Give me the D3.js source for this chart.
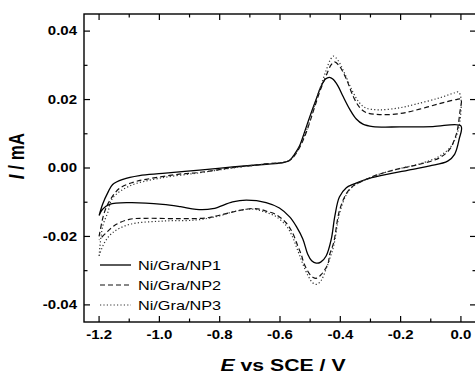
<!DOCTYPE html>
<html><head><meta charset="utf-8">
<script src="https://cdn.jsdelivr.net/npm/d3@7"></script>
<style>body{margin:0;background:#fff}svg{display:block}text{font-family:"Liberation Sans",Arial,sans-serif;fill:#000}</style>
</head><body>
<svg id="c" width="475" height="374"></svg>
<script>
// ---- data ----
const seriesNames = ["Ni/Gra/NP1", "Ni/Gra/NP2", "Ni/Gra/NP3"];
const xTickValues = [-1.2, -1.0, -0.8, -0.6, -0.4, -0.2, 0.0];
const xTickLabels = ["-1.2", "-1.0", "-0.8", "-0.6", "-0.4", "-0.2", "0.0"];
const yTickValues = [-0.04, -0.02, 0.00, 0.02, 0.04];
const yTickLabels = ["-0.04", "-0.02", "0.00", "0.02", "0.04"];

const np1E = [-1.2,-1.188,-1.171,-1.155,-1.121,-1.066,-0.989,-0.867,-0.757,-0.646,-0.591,-0.568,-0.552,-0.535,-0.519,-0.502,-0.480,-0.463,-0.449,-0.436,-0.425,-0.408,-0.392,-0.369,-0.347,-0.325,-0.292,-0.203,-0.093,0.0,
  -0.006,-0.021,-0.044,-0.103,-0.160,-0.270,-0.314,-0.358,-0.380,-0.403,-0.418,-0.430,-0.447,-0.465,-0.480,-0.495,-0.508,-0.524,-0.545,-0.568,-0.602,-0.646,-0.712,-0.757,-0.823,-0.878,-0.930,-0.989,-1.1,-1.165,-1.188,-1.2];
const np1I = [-0.0139,-0.0105,-0.0072,-0.0048,-0.0033,-0.0022,-0.0016,-0.0006,0.0003,0.0011,0.0016,0.0022,0.0040,0.0065,0.0104,0.0148,0.0201,0.0240,0.0260,0.0265,0.0260,0.0240,0.0211,0.0172,0.0143,0.0128,0.0121,0.0120,0.0121,0.0123,
  0.0084,0.0040,0.0020,0.0006,-0.0004,-0.0023,-0.0033,-0.0048,-0.0058,-0.0085,-0.0140,-0.0208,-0.0257,-0.0275,-0.0278,-0.0271,-0.0252,-0.0208,-0.0172,-0.0143,-0.0117,-0.0101,-0.0094,-0.0099,-0.0119,-0.0121,-0.0113,-0.0106,-0.0101,-0.0106,-0.0120,-0.0139];

const np2E = [-1.2,-1.183,-1.165,-1.133,-1.088,-1.044,-0.934,-0.867,-0.757,-0.646,-0.58,-0.558,-0.535,-0.513,-0.491,-0.469,-0.447,-0.43,-0.419,-0.403,-0.38,-0.358,-0.336,-0.314,-0.27,-0.203,-0.137,-0.071,-0.015,0.0,
  -0.004,-0.012,-0.021,-0.037,-0.07,-0.137,-0.214,-0.27,-0.314,-0.358,-0.38,-0.403,-0.422,-0.435,-0.441,-0.463,-0.478,-0.490,-0.501,-0.519,-0.530,-0.541,-0.558,-0.58,-0.613,-0.646,-0.668,-0.701,-0.734,-0.801,-0.845,-0.934,-1.044,-1.1,-1.149,-1.177,-1.2];
const np2I = [-0.0200,-0.0131,-0.0096,-0.0060,-0.0042,-0.0033,-0.0018,-0.0013,0.0001,0.0012,0.0018,0.0030,0.0060,0.0104,0.0162,0.0221,0.0270,0.0302,0.0310,0.0298,0.0260,0.0211,0.0177,0.0162,0.0156,0.0159,0.0172,0.0188,0.0200,0.0201,
  0.0160,0.0110,0.0084,0.0055,0.0030,0.0011,-0.0004,-0.0018,-0.0033,-0.0053,-0.0075,-0.0125,-0.0218,-0.0252,-0.0280,-0.0311,-0.0322,-0.0320,-0.0311,-0.0282,-0.0252,-0.0228,-0.0190,-0.0160,-0.0136,-0.0126,-0.0120,-0.0119,-0.0124,-0.0138,-0.0146,-0.0148,-0.0147,-0.0150,-0.0168,-0.0190,-0.0210];

const np3E = [-1.2,-1.188,-1.171,-1.155,-1.1,-1.0,-0.867,-0.757,-0.646,-0.58,-0.558,-0.535,-0.513,-0.491,-0.469,-0.447,-0.432,-0.422,-0.408,-0.385,-0.36,-0.336,-0.314,-0.27,-0.203,-0.148,-0.071,-0.02,-0.008,0.0,
  -0.004,-0.015,-0.032,-0.07,-0.137,-0.214,-0.27,-0.314,-0.358,-0.38,-0.403,-0.422,-0.435,-0.447,-0.463,-0.478,-0.492,-0.505,-0.52,-0.532,-0.545,-0.56,-0.58,-0.613,-0.646,-0.69,-0.757,-0.801,-0.878,-0.989,-1.1,-1.155,-1.182,-1.2];
const np3I = [-0.0257,-0.0170,-0.0130,-0.0088,-0.0053,-0.0030,-0.0014,0.0000,0.0012,0.0018,0.0030,0.0062,0.0108,0.0168,0.0228,0.0285,0.0318,0.0327,0.0315,0.0275,0.0225,0.0190,0.0175,0.0170,0.0176,0.0187,0.0205,0.0220,0.0222,0.0205,
  0.0133,0.0094,0.0064,0.0035,0.0012,-0.0004,-0.0018,-0.0033,-0.0054,-0.0078,-0.0135,-0.0228,-0.0265,-0.0295,-0.0328,-0.0340,-0.0335,-0.0318,-0.0290,-0.0262,-0.0232,-0.0198,-0.0168,-0.0142,-0.0130,-0.0120,-0.0128,-0.0140,-0.0152,-0.0155,-0.0165,-0.0189,-0.0218,-0.0257];

// ---- layout ----
const L = 84, R = 476, T = 14, B = 322;
const x = d3.scaleLinear().domain([-1.25, 0.05]).range([L, R]);
const y = d3.scaleLinear().domain([-0.045, 0.045]).range([B, T]);
const sx = 1.25;
const svg = d3.select("#c");

// curves
const styles = [
  {dash: null, w: 1.3, c: "#000"},
  {dash: "5,3", w: 1.2, c: "#111"},
  {dash: "1.2,2.2", w: 1.2, c: "#333"}
];
const data = [[np1E, np1I], [np2E, np2I], [np3E, np3I]].map(([E, I]) => E.map((e, i) => [e, I[i]]));
const line = d3.line().x(d => x(d[0])).y(d => y(d[1])).curve(d3.curveCatmullRom.alpha(0.5));
data.forEach((d, k) => {
  svg.append("path").attr("d", line(d)).attr("fill", "none")
    .attr("stroke", styles[k].c).attr("stroke-width", styles[k].w)
    .attr("stroke-dasharray", styles[k].dash);
});

// frame
svg.append("rect").attr("x", L).attr("y", T).attr("width", R - L).attr("height", B - T)
  .attr("fill", "none").attr("stroke", "#000").attr("stroke-width", 1.4);

// ticks (inward, all four sides)
const xMinor = d3.range(-1.2, 0.0001, 0.1).map(v => +v.toFixed(2)).filter(v => !xTickValues.some(t => Math.abs(t - v) < 1e-6));
const yMinor = [-0.03, -0.01, 0.01, 0.03];
const tk = svg.append("g").attr("stroke", "#000").attr("stroke-width", 1.2);
xTickValues.forEach(v => {
  tk.append("line").attr("x1", x(v)).attr("x2", x(v)).attr("y1", B).attr("y2", B - 6);
  tk.append("line").attr("x1", x(v)).attr("x2", x(v)).attr("y1", T).attr("y2", T + 6);
});
xMinor.forEach(v => {
  tk.append("line").attr("x1", x(v)).attr("x2", x(v)).attr("y1", B).attr("y2", B - 3.5);
  tk.append("line").attr("x1", x(v)).attr("x2", x(v)).attr("y1", T).attr("y2", T + 3.5);
});
yTickValues.forEach(v => {
  tk.append("line").attr("y1", y(v)).attr("y2", y(v)).attr("x1", L).attr("x2", L + 6);
  tk.append("line").attr("y1", y(v)).attr("y2", y(v)).attr("x1", R).attr("x2", R - 6);
});
yMinor.forEach(v => {
  tk.append("line").attr("y1", y(v)).attr("y2", y(v)).attr("x1", L).attr("x2", L + 3.5);
  tk.append("line").attr("y1", y(v)).attr("y2", y(v)).attr("x1", R).attr("x2", R - 3.5);
});

// tick labels
xTickValues.forEach((v, i) => {
  svg.append("text").attr("transform", `translate(${x(v)},339) scale(${sx},1)`)
    .attr("text-anchor", "middle").attr("font-size", 12).attr("font-weight", "bold").text(xTickLabels[i]);
});
yTickValues.forEach((v, i) => {
  svg.append("text").attr("transform", `translate(77,${y(v) + 4.3}) scale(${sx},1)`)
    .attr("text-anchor", "end").attr("font-size", 12).attr("font-weight", "bold").text(yTickLabels[i]);
});

// axis titles
const xt = svg.append("text").attr("transform", `translate(283,371) scale(${sx},1)`)
  .attr("text-anchor", "middle").attr("font-size", 17).attr("font-weight", "bold");
xt.append("tspan").attr("font-style", "italic").text("E");
xt.append("tspan").text(" vs SCE / V");
const yt = svg.append("text").attr("transform", `translate(24,156) scale(${sx},1) rotate(-90)`)
  .attr("text-anchor", "middle").attr("font-size", 17).attr("font-weight", "bold");
yt.append("tspan").attr("font-style", "italic").text("I");
yt.append("tspan").text(" / mA");

// legend
seriesNames.forEach((n, k) => {
  const ly = 265 + k * 20;
  svg.append("line").attr("x1", 100).attr("x2", 131).attr("y1", ly).attr("y2", ly)
    .attr("stroke", styles[k].c).attr("stroke-width", styles[k].w).attr("stroke-dasharray", styles[k].dash);
  svg.append("text").attr("transform", `translate(138,${ly + 4.7}) scale(${sx},1)`)
    .attr("font-size", 13).text(n);
});
</script>
</body></html>
